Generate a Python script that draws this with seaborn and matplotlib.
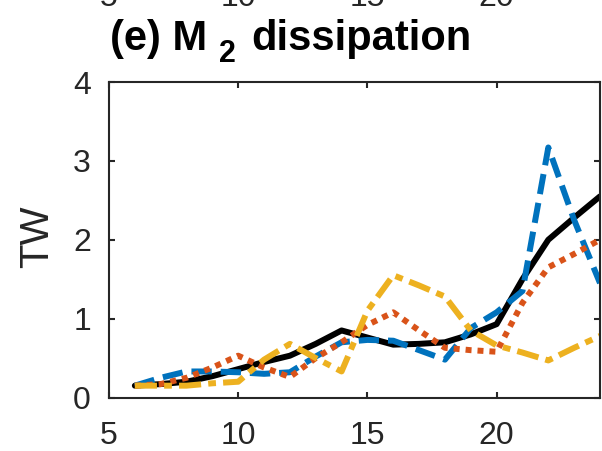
import matplotlib
matplotlib.use("Agg")
import matplotlib.pyplot as plt
import matplotlib.transforms as mtrans
import seaborn as sns
import pandas as pd

# ---- data ----
x_vals = [6, 7, 8, 9, 10, 11, 12, 13, 14, 15, 16, 17, 18, 19, 20, 21, 22, 23, 24]
black = [0.15, 0.17, 0.20, 0.27, 0.36, 0.45, 0.53, 0.68, 0.85, 0.76, 0.67, 0.68, 0.70, 0.80, 0.93, 1.50, 2.00, 2.28, 2.55]
blue = [0.15, 0.25, 0.33, 0.33, 0.32, 0.30, 0.32, 0.52, 0.70, 0.73, 0.72, 0.60, 0.48, 0.88, 1.08, 1.35, 3.17, 2.25, 1.45]
orange = [0.15, 0.17, 0.25, 0.38, 0.53, 0.38, 0.26, 0.50, 0.70, 0.92, 1.08, 0.85, 0.63, 0.60, 0.58, 1.20, 1.65, 1.82, 2.00]
yellow = [0.15, 0.15, 0.15, 0.18, 0.20, 0.48, 0.68, 0.50, 0.33, 1.10, 1.55, 1.42, 1.28, 0.85, 0.66, 0.57, 0.47, 0.63, 0.78]
series_names = ["black", "blue", "orange", "yellow"]
x_ticks = [5, 10, 15, 20]
y_ticks = [0, 1, 2, 3, 4]
title_main = "(e) M"
title_sub = "2"
title_rest = "dissipation"
y_label = "TW"

sns.set_theme(style="white")
plt.rcParams["font.family"] = ["Liberation Sans", "DejaVu Sans"]

W, H = 602, 451
fig = plt.figure(figsize=(W / 100, H / 100), dpi=100)
L, R, T, B = 109, 600, 82, 397.5
ax = fig.add_axes([L / W, 1 - B / H, (R - L) / W, (B - T) / H])

df = pd.concat([
    pd.DataFrame({"x": x_vals, "y": vals, "s": name})
    for name, vals in zip(series_names, [black, blue, orange, yellow])
])
palette = {"black": "#000000", "blue": "#0072BD", "orange": "#D95319", "yellow": "#EDB120"}
dashes = {"black": "", "blue": (3.4, 1.5), "orange": (1, 1), "yellow": (3.7, 1.2, 1.3, 1.2)}
sns.lineplot(data=df, x="x", y="y", hue="s", style="s", hue_order=series_names,
             style_order=series_names, palette=palette, dashes=dashes,
             linewidth=4.3, legend=False, ax=ax, estimator=None, sort=False)

ax.set_xlim(5, 24)
ax.set_ylim(0, 4)
ax.set_xticks(x_ticks)
ax.set_yticks(y_ticks)
ax.set_xlabel("")
ax.set_ylabel("")
ec = "#262626"
for sp in ax.spines.values():
    sp.set_visible(True)
    sp.set_color(ec)
    sp.set_linewidth(1.5)
ax.tick_params(direction="in", length=4.3, width=1.5, color=ec, labelcolor=ec,
               labelsize=23, top=True, right=True, bottom=True, left=True, pad=13)
ax.tick_params(axis="x", pad=17)
ax.grid(False)

def fx(px):
    return px / W

def fy(py):
    return 1 - py / H

# title pieces
fig.text(fx(110), fy(50), title_main, fontsize=30, fontweight="bold", ha="left", va="baseline", color="black")
fig.text(fx(219), fy(62), title_sub, fontsize=22, fontweight="bold", ha="left", va="baseline", color="black")
fig.text(fx(251), fy(50), title_rest, fontsize=30, fontweight="bold", ha="left", va="baseline", color="black")

# y label
fig.text(fx(37), fy(237), y_label, fontsize=29, rotation=90, ha="center", va="center", color=ec)

# cut-off tick labels of the panel above
tr = mtrans.blended_transform_factory(ax.transData, fig.transFigure)
for t in x_ticks:
    fig.text(t, fy(6), str(t), transform=tr, fontsize=23, ha="center", va="baseline", color=ec)

fig.savefig("out.png", dpi=100)
